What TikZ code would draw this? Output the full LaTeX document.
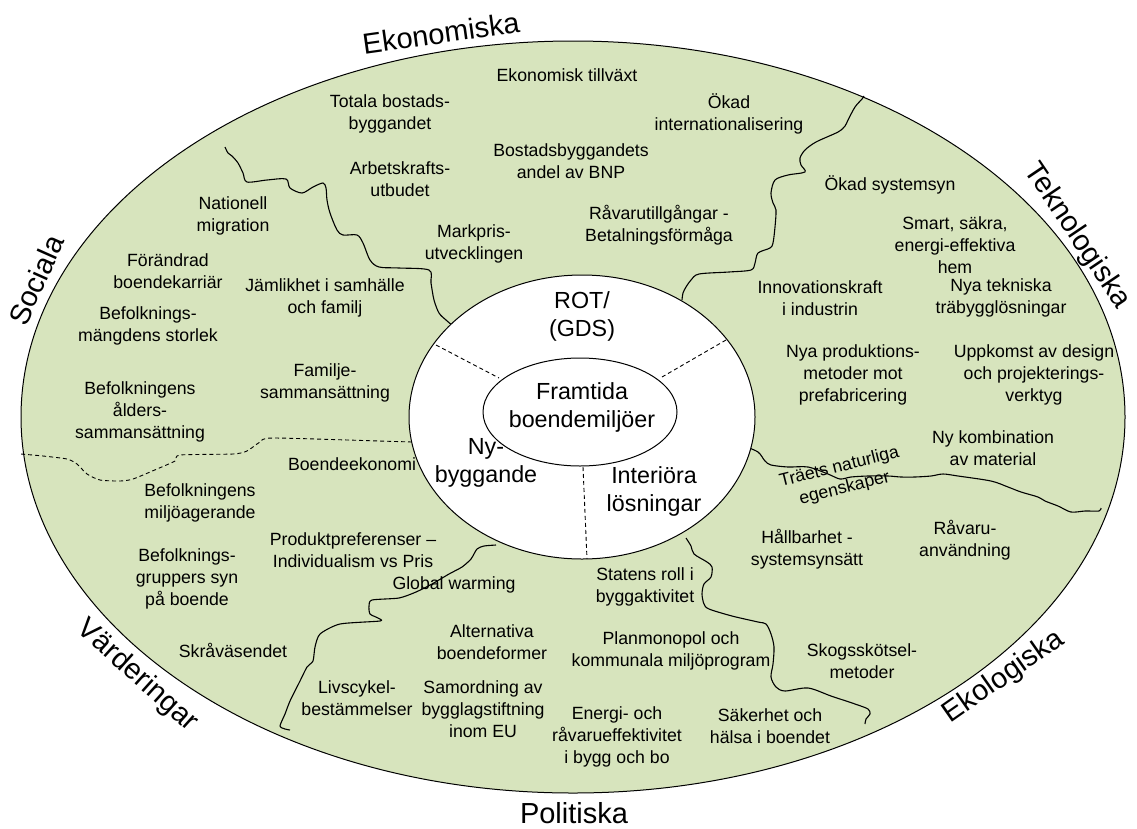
\documentclass[tikz,border=0pt]{standalone}
\usepackage{fontspec}
\setmainfont{Liberation Sans}

\definecolor{gronska}{RGB}{215,228,189}

\tikzset{
    faktor/.style={align=center, inner sep=0pt, font=\fontsize{17.7}{21.7}\selectfont},
    sektor/.style={align=center, inner sep=0pt, font=\fontsize{23.3}{28}\selectfont},
    omrade/.style={inner sep=0pt, font=\fontsize{29}{34}\selectfont},
    grans/.style={black, line width=1.1pt, line join=round},
    streckad/.style={black, line width=0.9pt, dash pattern=on 4pt off 3pt},
}

\begin{document}
\begin{tikzpicture}[x=1pt, y=-1pt]
            \useasboundingbox (0,0) rectangle (1137,828);

            % Yttre ellips
            \draw[black, line width=1pt, fill=gronska] (573,417) ellipse [x radius=552pt, y radius=376pt];

            % Områden runt om
            \node[omrade, rotate=8] (ekonomiska) at (441,33) {Ekonomiska};
            \node[omrade, rotate=66] (sociala) at (36,280) {Sociala};
            \node[omrade, rotate=-56] (teknologiska) at (1077,236) {Teknologiska};
            \node[omrade, rotate=-42] (varderingar) at (137,676) {Värderingar};
            \node[omrade, rotate=35] (ekologiska) at (1004,677) {Ekologiska};
            \node[omrade] (politiska) at (574,813) {Politiska};

            % Ekonomiska faktorer
            \node[faktor] (tillvaxt) at (567,75) {Ekonomisk tillväxt};
            \node[faktor] (totala) at (390,114) {Totala bostads-\\byggandet};
            \node[faktor] (internat) at (729,114) {Ökad\\internationalisering};
            \node[faktor] (bnp) at (571,161) {Bostadsbyggandets\\andel av BNP};
            \node[faktor] (arbetskraft) at (400,179) {Arbetskrafts-\\utbudet};
            \node[faktor] (markpris) at (474,244) {Markpris-\\utvecklingen};
            \node[faktor] (ravaror) at (659,225) {Råvarutillgångar -\\Betalningsförmåga};

            % Sociala faktorer
            \node[faktor] (migration) at (233,216) {Nationell\\migration};
            \node[faktor] (karriar) at (168,271) {Förändrad\\boendekarriär};
            \node[faktor] (jamlikhet) at (325,298) {Jämlikhet i samhälle\\och familj};
            \node[faktor] (mangd) at (148,326) {Befolknings-\\mängdens storlek};
            \node[faktor] (familj) at (325,383) {Familje-\\sammansättning};
            \node[faktor] (alder) at (140,412) {Befolkningens\\ålders-\\sammansättning};

            % Värderingar
            \node[faktor] (ekonomi) at (352,464) {Boendeekonomi};
            \node[faktor] (miljo) at (200,503) {Befolkningens\\miljöagerande};
            \node[faktor] (preferens) at (353,550) {Produktpreferenser –\\Individualism vs Pris};
            \node[faktor] (grupper) at (187,579) {Befolknings-\\gruppers syn\\på boende};
            \node[faktor] (skra) at (233,650) {Skråväsendet};

            % Politiska faktorer
            \node[faktor] (warming) at (454,585) {Global warming};
            \node[faktor] (alternativ) at (492,642) {Alternativa\\boendeformer};
            \node[faktor] (livscykel) at (357,698) {Livscykel-\\bestämmelser};
            \node[faktor] (samordning) at (483,709) {Samordning av\\bygglagstiftning\\inom EU};
            \node[faktor] (statens) at (645,587) {Statens roll i\\byggaktivitet};
            \node[faktor] (planmonopol) at (671,651) {Planmonopol och\\kommunala miljöprogram};
            \node[faktor] (energi) at (617,737) {Energi- och\\råvarueffektivitet\\i bygg och bo};
            \node[faktor] (sakerhet) at (770,726) {Säkerhet och\\hälsa i boendet};

            % Ekologiska faktorer
            \node[faktor] (hallbarhet) at (807,549) {Hållbarhet -\\systemsynsätt};
            \node[faktor] (ravaruanv) at (965,540) {Råvaru-\\användning};
            \node[faktor] (skog) at (862,661) {Skogsskötsel-\\metoder};
            \node[faktor, rotate=14] (traets) at (842,478) {Träets naturliga\\egenskaper};
            \node[faktor] (kombination) at (993,448) {Ny kombination\\av material};

            % Teknologiska faktorer
            \node[faktor] (systemsyn) at (890,185) {Ökad systemsyn};
            \node[faktor] (smart) at (955,245) {Smart, säkra,\\energi-effektiva\\hem};
            \node[faktor] (innovation) at (820,298) {Innovationskraft\\i industrin};
            \node[faktor] (trabygg) at (1001,298) {Nya tekniska\\träbygglösningar};
            \node[faktor] (produktion) at (853,375) {Nya produktions-\\metoder mot\\prefabricering};
            \node[faktor] (design) at (1034,375) {Uppkomst av design\\och projekterings-\\verktyg};

            % Gränser mellan områdena
            \draw[grans] plot[smooth, tension=0.5] coordinates {(225,147) (228,153) (232,156) (238,163) (243,173) (247,182) (267,180) (286,179) (290,188) (302,193) (313,187) (323,183) (326,188) (327,200) (330,213) (337,230) (343,235) (357,235) (363,243) (370,260) (379,267) (399,268) (429,270) (431,283) (434,300) (439,313) (446,320) (453,326)};
            \draw[grans] plot[smooth, tension=0.5] coordinates {(864,96) (862,99) (855,107) (848,120) (845,126) (838,132) (816,142) (805,150) (800,158) (801,165) (805,172) (788,175) (775,180) (771,193) (773,203) (776,210) (775,227) (773,243) (770,248) (758,253) (755,263) (751,270) (729,272) (699,274) (691,280) (686,287) (683,293) (682,300)};
            \draw[grans] plot[smooth, tension=0.5] coordinates {(744,446) (758,452) (765,461) (771,465) (788,467) (808,467) (828,474) (840,479) (851,477) (868,476) (888,476) (901,477) (915,477) (931,476) (943,474) (958,476) (991,481) (1008,487) (1021,492) (1038,497) (1045,501) (1058,506) (1071,512) (1085,511) (1099,511) (1101,508)};
            \draw[grans] plot[smooth, tension=0.5] coordinates {(686,538) (691,546) (694,554) (707,562) (712,567) (711,577) (704,584) (702,594) (704,604) (709,609) (732,616) (758,622) (766,624) (771,634) (774,647) (773,664) (771,677) (776,687) (785,691) (808,688) (831,696) (855,704) (868,709) (870,714) (866,719) (865,724)};
            \draw[grans] plot[smooth, tension=0.4] coordinates {(496,545) (484,546) (477,549) (471,559) (462,567) (449,574) (432,584) (416,592) (399,598) (372,600) (369,606) (370,614) (378,618) (380,621) (340,624) (320,634) (315,647) (313,661) (307,667) (300,681) (290,701) (285,714) (280,726) (285,729) (290,730)};
            \draw[streckad] plot[smooth, tension=0.4] coordinates {(412,442) (379,441) (273,438) (260,442) (247,451) (233,454) (180,455) (175,461) (157,469) (133,479) (120,481) (100,480) (87,474) (77,464) (67,459) (43,456) (21,454)};

            % Inre ring
            \draw[black, line width=1pt, fill=white] (582,417) ellipse [x radius=173pt, y radius=142pt];
            \draw[streckad] (436,345) -- (499,378);
            \draw[streckad] (726,340) -- (662,377);
            \draw[streckad] (583,467) -- (587,559);
            \node[sektor] (rot) at (582,316) {ROT/\\(GDS)};
            \node[sektor] (nybygg) at (486,463) {Ny-\\byggande};
            \node[sektor] (interior) at (654,491) {Interiöra\\lösningar};

            % Kärnan
            \draw[black, line width=1pt, fill=white] (580,412) ellipse [x radius=97pt, y radius=54pt];
            \node[sektor] (framtida) at (582,407) {Framtida\\boendemiljöer};
\end{tikzpicture}
\end{document}
